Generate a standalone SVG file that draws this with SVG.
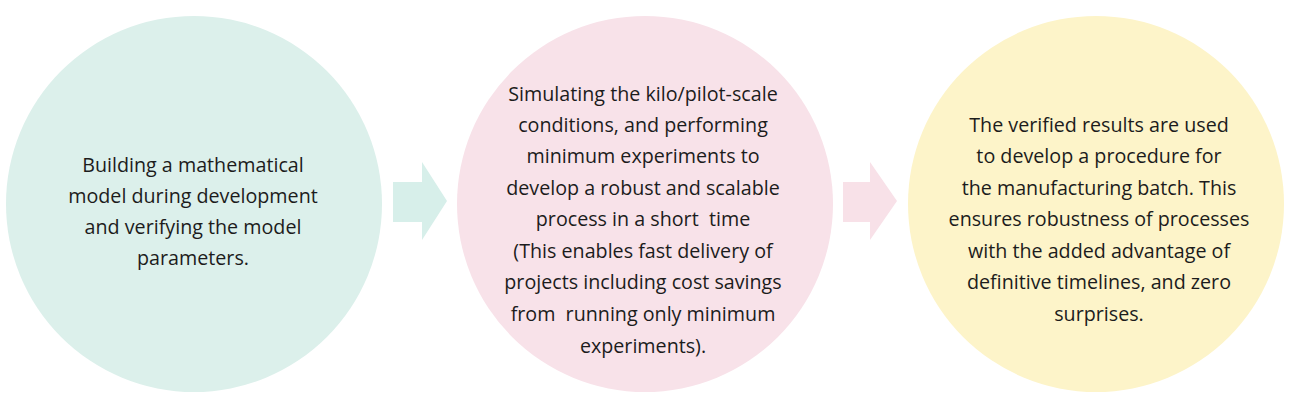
<svg xmlns="http://www.w3.org/2000/svg" width="1300" height="413" viewBox="0 0 1300 413">
<style>
  .t { font-family: "Open Sans", "Noto Sans", "Liberation Sans", sans-serif; font-size: 19.7px; fill: #1c1c1c; text-anchor: middle; white-space: pre; }
</style>
<rect width="1300" height="413" fill="#ffffff"/>
<g id="connectors">
  <polygon points="393,182 422,182 422,162 447,201 422,240 422,222 393,222" fill="#d7efea"/>
  <polygon points="843,182 870,182 870,162 897,201 870,240 870,222 843,222" fill="#f8e1e8"/>
</g>
<g id="node1">
  <circle cx="194" cy="204" r="188" fill="#dcf0eb"/>
  <text class="t" x="193" y="172">Building a mathematical</text>
  <text class="t" x="193" y="203">model during development</text>
  <text class="t" x="193" y="234">and verifying the model</text>
  <text class="t" x="193" y="265">parameters.</text>
</g>
<g id="node2">
  <circle cx="645" cy="204" r="188" fill="#f8e2e9"/>
  <text class="t" x="643" y="101">Simulating the kilo/pilot-scale</text>
  <text class="t" x="643" y="132">conditions, and performing</text>
  <text class="t" x="643" y="163">minimum experiments to</text>
  <text class="t" x="643" y="195">develop a robust and scalable</text>
  <text class="t" x="643" y="226" xml:space="preserve">process in a short  time</text>
  <text class="t" x="643" y="258">(This enables fast delivery of</text>
  <text class="t" x="643" y="289">projects including cost savings</text>
  <text class="t" x="643" y="321" xml:space="preserve">from  running only minimum</text>
  <text class="t" x="643" y="353">experiments).</text>
</g>
<g id="node3">
  <circle cx="1096" cy="204" r="188" fill="#fdf4c9"/>
  <text class="t" x="1099" y="132">The verified results are used</text>
  <text class="t" x="1099" y="163">to develop a procedure for</text>
  <text class="t" x="1099" y="195">the manufacturing batch. This</text>
  <text class="t" x="1099" y="226">ensures robustness of processes</text>
  <text class="t" x="1099" y="258">with the added advantage of</text>
  <text class="t" x="1099" y="289">definitive timelines, and zero</text>
  <text class="t" x="1099" y="321">surprises.</text>
</g>
</svg>
